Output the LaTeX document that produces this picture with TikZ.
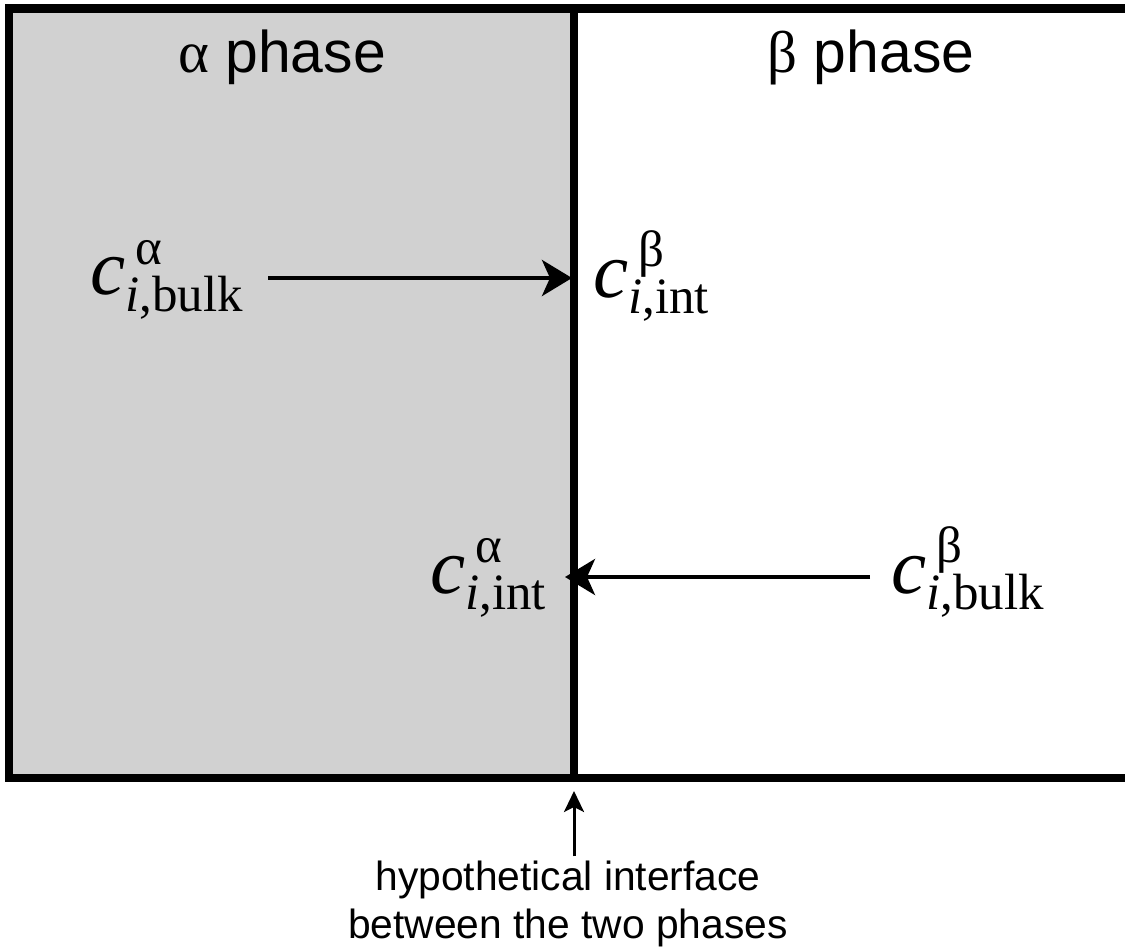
\documentclass[tikz,border=0pt]{standalone}
\usepackage{fontspec}
\setmainfont{Liberation Sans}
\newfontfamily\timesfont{Liberation Serif}
\usetikzlibrary{arrows.meta,positioning,calc}
\definecolor{phasegrey}{RGB}{209,209,209}
\newcommand{\conc}[2]{{\fontsize{45}{48}\selectfont\timesfont\itshape c}\rlap{\hspace{0.15em}\raisebox{0.44em}{\fontsize{29}{29}\selectfont\timesfont #1}}\raisebox{-0.24em}{\fontsize{29}{29}\selectfont\timesfont\itshape i\upshape,#2}}

\begin{document}
\begin{tikzpicture}[x=0.02cm, y=-0.02cm,
    phaselabel/.style={font=\fontsize{33.5}{40}\selectfont, inner sep=0pt, anchor=base},
    conc/.style={inner sep=0pt, anchor=base west, font=\fontsize{40}{48}\selectfont},
    flux/.style={-{Stealth[length=0.6cm, width=0.72cm, inset=0.16cm]}, line width=2.5pt},
    pointer/.style={-{Stealth[length=0.42cm, width=0.4cm, inset=0.1cm]}, line width=1.7pt},
    note/.style={font=\fontsize{23.2}{27.2}\selectfont, align=center, inner sep=0pt, anchor=base}
]
\useasboundingbox (0,0) rectangle (1125,949);
\fill[white] (0,0) rectangle (1125,949);

% the two phases
\fill[phasegrey] (9,8.5) rectangle (574,778);
\draw[line width=5.1pt] (1125,8.5) -- (9,8.5) -- (9,778) -- (1125,778);
\coordinate (itop) at (574,8.5);
\coordinate (ibot) at (574,778);
\draw[line width=4.25pt] (itop) -- (ibot);

\node[phaselabel] (alpha) at (282,73) {{\timesfont α} phase};
\node[phaselabel] (beta) at (871,73) {{\timesfont β} phase};

% concentrations
\node[conc] (cab) at (90,295) {\conc{α}{bulk}};
\node[conc] (cbi) at (593,297) {\conc{β}{int}};
\node[conc] (cai) at (430,593) {\conc{α}{int}};
\node[conc] (cbb) at (891,593) {\conc{β}{bulk}};

\draw[flux, shorten >=0.04cm] ([xshift=0.5cm, yshift=0.34cm]cab.base east) -- ([yshift=0.34cm]cab.base east -| itop);
\draw[flux, shorten >=-0.18cm] ([xshift=-0.42cm, yshift=0.32cm]cbb.base west) -- ([yshift=0.32cm]cbb.base west -| itop);

% interface label
\node[note] (iface) at (568,938) {hypothetical interface\\between the two phases};
\draw[pointer] ([yshift=0.08cm]iface.north -| ibot) -- ([yshift=-0.26cm]ibot);
\end{tikzpicture}
\end{document}
